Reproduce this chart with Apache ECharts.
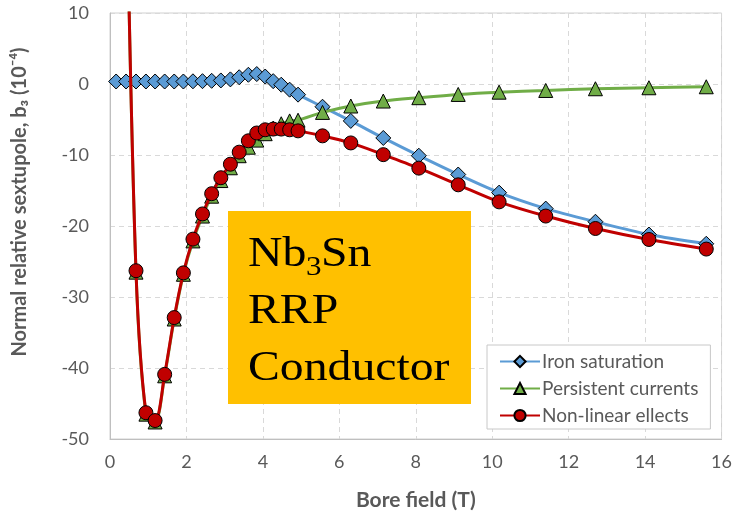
<!DOCTYPE html>
<html>
<head>
<meta charset="utf-8">
<script src="https://cdn.jsdelivr.net/npm/echarts@6/dist/echarts.min.js"></script>
<style>
  html, body { margin: 0; padding: 0; background: #fff; }
  #chart { width: 735px; height: 516px; }
</style>
</head>
<body>
<div id="chart"></div>
<script>
// bore field (T) of each measured point
var fieldIron = [0.16, 0.42, 0.68, 0.94, 1.18, 1.43, 1.68, 1.92, 2.17, 2.42, 2.66, 2.90, 3.15, 3.38, 3.62, 3.84, 4.06, 4.27, 4.48, 4.70, 4.92,
                 5.56, 6.30, 7.15, 8.08, 9.11, 10.18, 11.40, 12.70, 14.10, 15.60];
var ironSaturation = [0.35, 0.35, 0.35, 0.35, 0.35, 0.35, 0.35, 0.35, 0.38, 0.40, 0.45, 0.50, 0.65, 0.95, 1.30, 1.40, 1.05, 0.40, -0.10, -0.80, -1.50,
                      -3.2, -5.2, -7.6, -10.1, -12.75, -15.3, -17.55, -19.4, -21.2, -22.5];

var fieldLow = [0.42, 0.68, 0.94, 1.18, 1.43, 1.68, 1.92, 2.17, 2.42, 2.66, 2.90, 3.15, 3.38, 3.62, 3.84, 4.06, 4.27, 4.48, 4.70, 4.92,
                5.56, 6.30, 7.15, 8.08, 9.11, 10.18, 11.40, 12.70, 14.10, 15.60];
var persistentCurrents = [32, -26.5, -46.5, -47.6, -41.1, -33.1, -26.8, -22.1, -18.6, -15.8, -13.6, -11.8, -10.1, -8.9, -7.9, -7.0, -6.2, -5.6, -5.2, -5.1,
                          -4.0, -3.1, -2.4, -1.93, -1.47, -1.15, -0.91, -0.67, -0.53, -0.39];
var nonLinear = [32, -26.3, -46.3, -47.4, -40.9, -32.9, -26.6, -21.85, -18.3, -15.45, -13.2, -11.3, -9.6, -8.0, -6.9, -6.45, -6.35, -6.35, -6.45, -6.6,
                 -7.3, -8.3, -9.95, -11.85, -14.2, -16.6, -18.6, -20.35, -21.9, -23.25];

var seriesNames = ['Iron saturation', 'Persistent currents', 'Non-linear ellects'];
var xTicks = [0, 2, 4, 6, 8, 10, 12, 14, 16];
var yTicks = [-50, -40, -30, -20, -10, 0, 10];

function pairs(xs, ys) {
    var out = [];
    for (var i = 0; i < xs.length; i++) out.push([xs[i], ys[i]]);
    return out;
}

var chart = echarts.init(document.getElementById('chart'));
var gray = '#595959';
var font = 'Lato';
var serif = '43px "Liberation Serif"';

var option = {
    animation: false,
    grid: {
        left: 110, right: 12, top: 13, bottom: 74,
        show: true, borderColor: '#d0d0d0', borderWidth: 1
    },
    xAxis: {
        type: 'value',
        min: xTicks[0], max: xTicks[xTicks.length - 1], interval: 2,
        name: 'Bore field (T)',
        nameLocation: 'middle',
        nameGap: 51,
        nameTextStyle: { color: gray, fontSize: 21, fontWeight: 'bold', fontFamily: font },
        axisLine: { onZero: false, lineStyle: { color: '#bfbfbf', width: 1 } },
        axisTick: { show: false },
        axisLabel: { color: gray, fontSize: 18, fontFamily: font, margin: 14 },
        splitLine: { lineStyle: { color: '#d9d9d9', type: [5, 4] } }
    },
    yAxis: {
        type: 'value',
        min: yTicks[0], max: yTicks[yTicks.length - 1], interval: 10,
        name: 'Normal relative sextupole, b\u2083 (10\u207B\u2074)',
        nameLocation: 'middle',
        nameGap: 80,
        nameRotate: 90,
        nameTextStyle: { color: gray, fontSize: 20, fontWeight: 'bold', fontFamily: font, padding: [0, 0, 0, 48] },
        axisLine: { show: true, onZero: false, lineStyle: { color: '#bfbfbf', width: 1 } },
        axisTick: { show: false },
        axisLabel: { color: gray, fontSize: 18, fontFamily: font, margin: 21 },
        splitLine: { lineStyle: { color: '#d9d9d9', type: [5, 4] } }
    },
    legend: {
        orient: 'vertical',
        left: 487, top: 345,
        data: seriesNames,
        backgroundColor: '#fff',
        borderColor: '#c8c8c8',
        borderWidth: 1,
        padding: [7, 12, 4, 12],
        itemWidth: 40, itemHeight: 14, itemGap: 8,
        textStyle: { color: gray, fontSize: 19, fontFamily: font, padding: [0, 0, 0, -3] }
    },
    graphic: [
        { type: 'rect', left: 228, top: 211, shape: { width: 243, height: 193 }, style: { fill: '#ffc000' }, z: 10 },
        { type: 'text', x: 248, y: 255, scaleX: 1.11, style: { text: 'Nb', font: serif, fill: '#000', verticalAlign: 'middle' }, z: 11 },
        { type: 'text', x: 306, y: 268, scaleX: 1.11, style: { text: '3', font: '28px "Liberation Serif"', fill: '#000', verticalAlign: 'middle' }, z: 11 },
        { type: 'text', x: 321, y: 255, scaleX: 1.11, style: { text: 'Sn', font: serif, fill: '#000', verticalAlign: 'middle' }, z: 11 },
        { type: 'text', x: 248, y: 312, scaleX: 1.11, style: { text: 'RRP', font: serif, fill: '#000', verticalAlign: 'middle' }, z: 11 },
        { type: 'text', x: 248, y: 369, scaleX: 1.11, style: { text: 'Conductor', font: serif, fill: '#000', verticalAlign: 'middle' }, z: 11 }
    ],
    series: [
        {
            name: seriesNames[0], type: 'line', smooth: 0.3,
            data: pairs(fieldIron, ironSaturation),
            symbol: 'diamond', symbolSize: 15,
            lineStyle: { color: '#5b9bd5', width: 3 },
            itemStyle: { color: '#5b9bd5', borderColor: '#000', borderWidth: 1 },
            z: 2
        },
        {
            name: seriesNames[1], type: 'line', smooth: 0.3,
            data: pairs(fieldLow, persistentCurrents),
            symbol: 'triangle', symbolSize: 14,
            lineStyle: { color: '#70ad47', width: 3 },
            itemStyle: { color: '#70ad47', borderColor: '#000', borderWidth: 1 },
            z: 3
        },
        {
            name: seriesNames[2], type: 'line', smooth: 0.3,
            data: pairs(fieldLow, nonLinear),
            symbol: 'circle', symbolSize: 14,
            lineStyle: { color: '#c00000', width: 3 },
            itemStyle: { color: '#c00000', borderColor: '#000', borderWidth: 1 },
            z: 4
        }
    ]
};

chart.setOption(option);
</script>
</body>
</html>
